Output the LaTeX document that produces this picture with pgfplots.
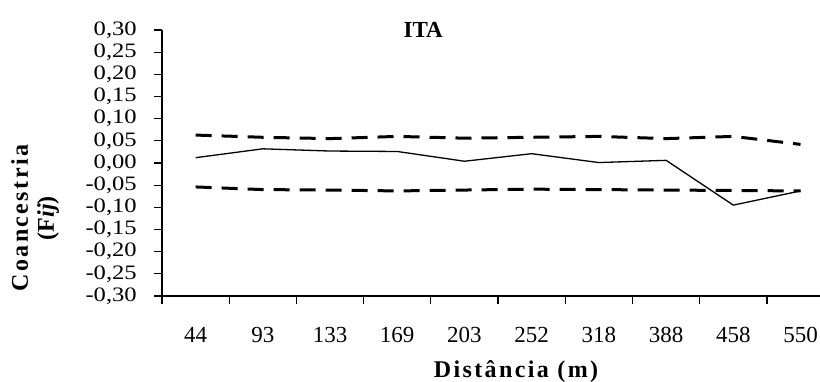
\documentclass[border=0pt]{standalone}
\usepackage{graphicx}
\usepackage{pgfplots}
\pgfplotsset{compat=1.18}
\usepackage{fontspec}
\setmainfont{Liberation Serif}
\newcommand{\ys}[1]{\scalebox{1.2}[1]{#1}}
\begin{document}
\begin{tikzpicture}
\useasboundingbox (-162pt,-85pt) rectangle (658pt,296pt);
\begin{axis}[
  at={(0pt,0pt)}, anchor=south west,
  scale only axis, width=658pt, height=266pt,
  xmin=-0.5, xmax=9.29, ymin=-0.3, ymax=0.3,
  axis x line*=bottom, axis y line*=left,
  axis line style={line width=1.2pt, -},
  tick style={line width=1.2pt, black},
  tick align=outside, major tick length=8pt,
  xtick={-0.5,0.5,...,8.5}, xticklabels={},
  extra x ticks={0,1,...,9},
  extra x tick labels={44,93,133,169,203,252,318,388,458,550},
  extra x tick style={major tick length=0pt, tick label style={font=\fontsize{23}{23}\selectfont, anchor=base, yshift=-46pt}},
  ytick={-0.30,-0.25,-0.20,-0.15,-0.10,-0.05,0,0.05,0.10,0.15,0.20,0.25,0.30},
  yticklabels={{\ys{-0,30}},{\ys{-0,25}},{\ys{-0,20}},{\ys{-0,15}},{\ys{-0,10}},{\ys{-0,05}},{\ys{0,00}},{\ys{0,05}},{\ys{0,10}},{\ys{0,15}},{\ys{0,20}},{\ys{0,25}},{\ys{0,30}}},
  yticklabel style={font=\fontsize{20.5}{20.5}\selectfont, anchor=east, inner sep=0pt, xshift=-17pt},
  title={ITA},
  title style={at={(axis description cs:0.397,0.95)}, anchor=base, font=\fontsize{23}{23}\selectfont\bfseries},
  xlabel={\addfontfeature{LetterSpace=10}Distância (m)},
  xlabel style={at={(axis description cs:0.538,-0.305)}, anchor=base, font=\fontsize{24}{24}\selectfont\bfseries},
  ylabel={\addfontfeature{LetterSpace=10}Coancestria\\(F\textit{ij})},
  ylabel style={at={(axis description cs:-0.193,0.293)}, anchor=center, align=center, font=\fontsize{24}{26}\selectfont\bfseries},
]
\addplot[black, line width=1.3pt] coordinates {
(0,0.012) (1,0.032) (2,0.027) (3,0.026) (4,0.004) (5,0.021) (6,0.001) (7,0.006) (8,-0.095) (9,-0.063)};
\addplot[black, line width=3pt, dash pattern=on 16pt off 10pt] coordinates {
(0,0.063) (1,0.058) (2,0.055) (3,0.060) (4,0.056) (5,0.058) (6,0.060) (7,0.055) (8,0.060) (9,0.042)};
\addplot[black, line width=3pt, dash pattern=on 16pt off 10pt] coordinates {
(0,-0.054) (1,-0.060) (2,-0.061) (3,-0.063) (4,-0.061) (5,-0.059) (6,-0.060) (7,-0.061) (8,-0.062) (9,-0.063)};
\end{axis}
\end{tikzpicture}
\end{document}
